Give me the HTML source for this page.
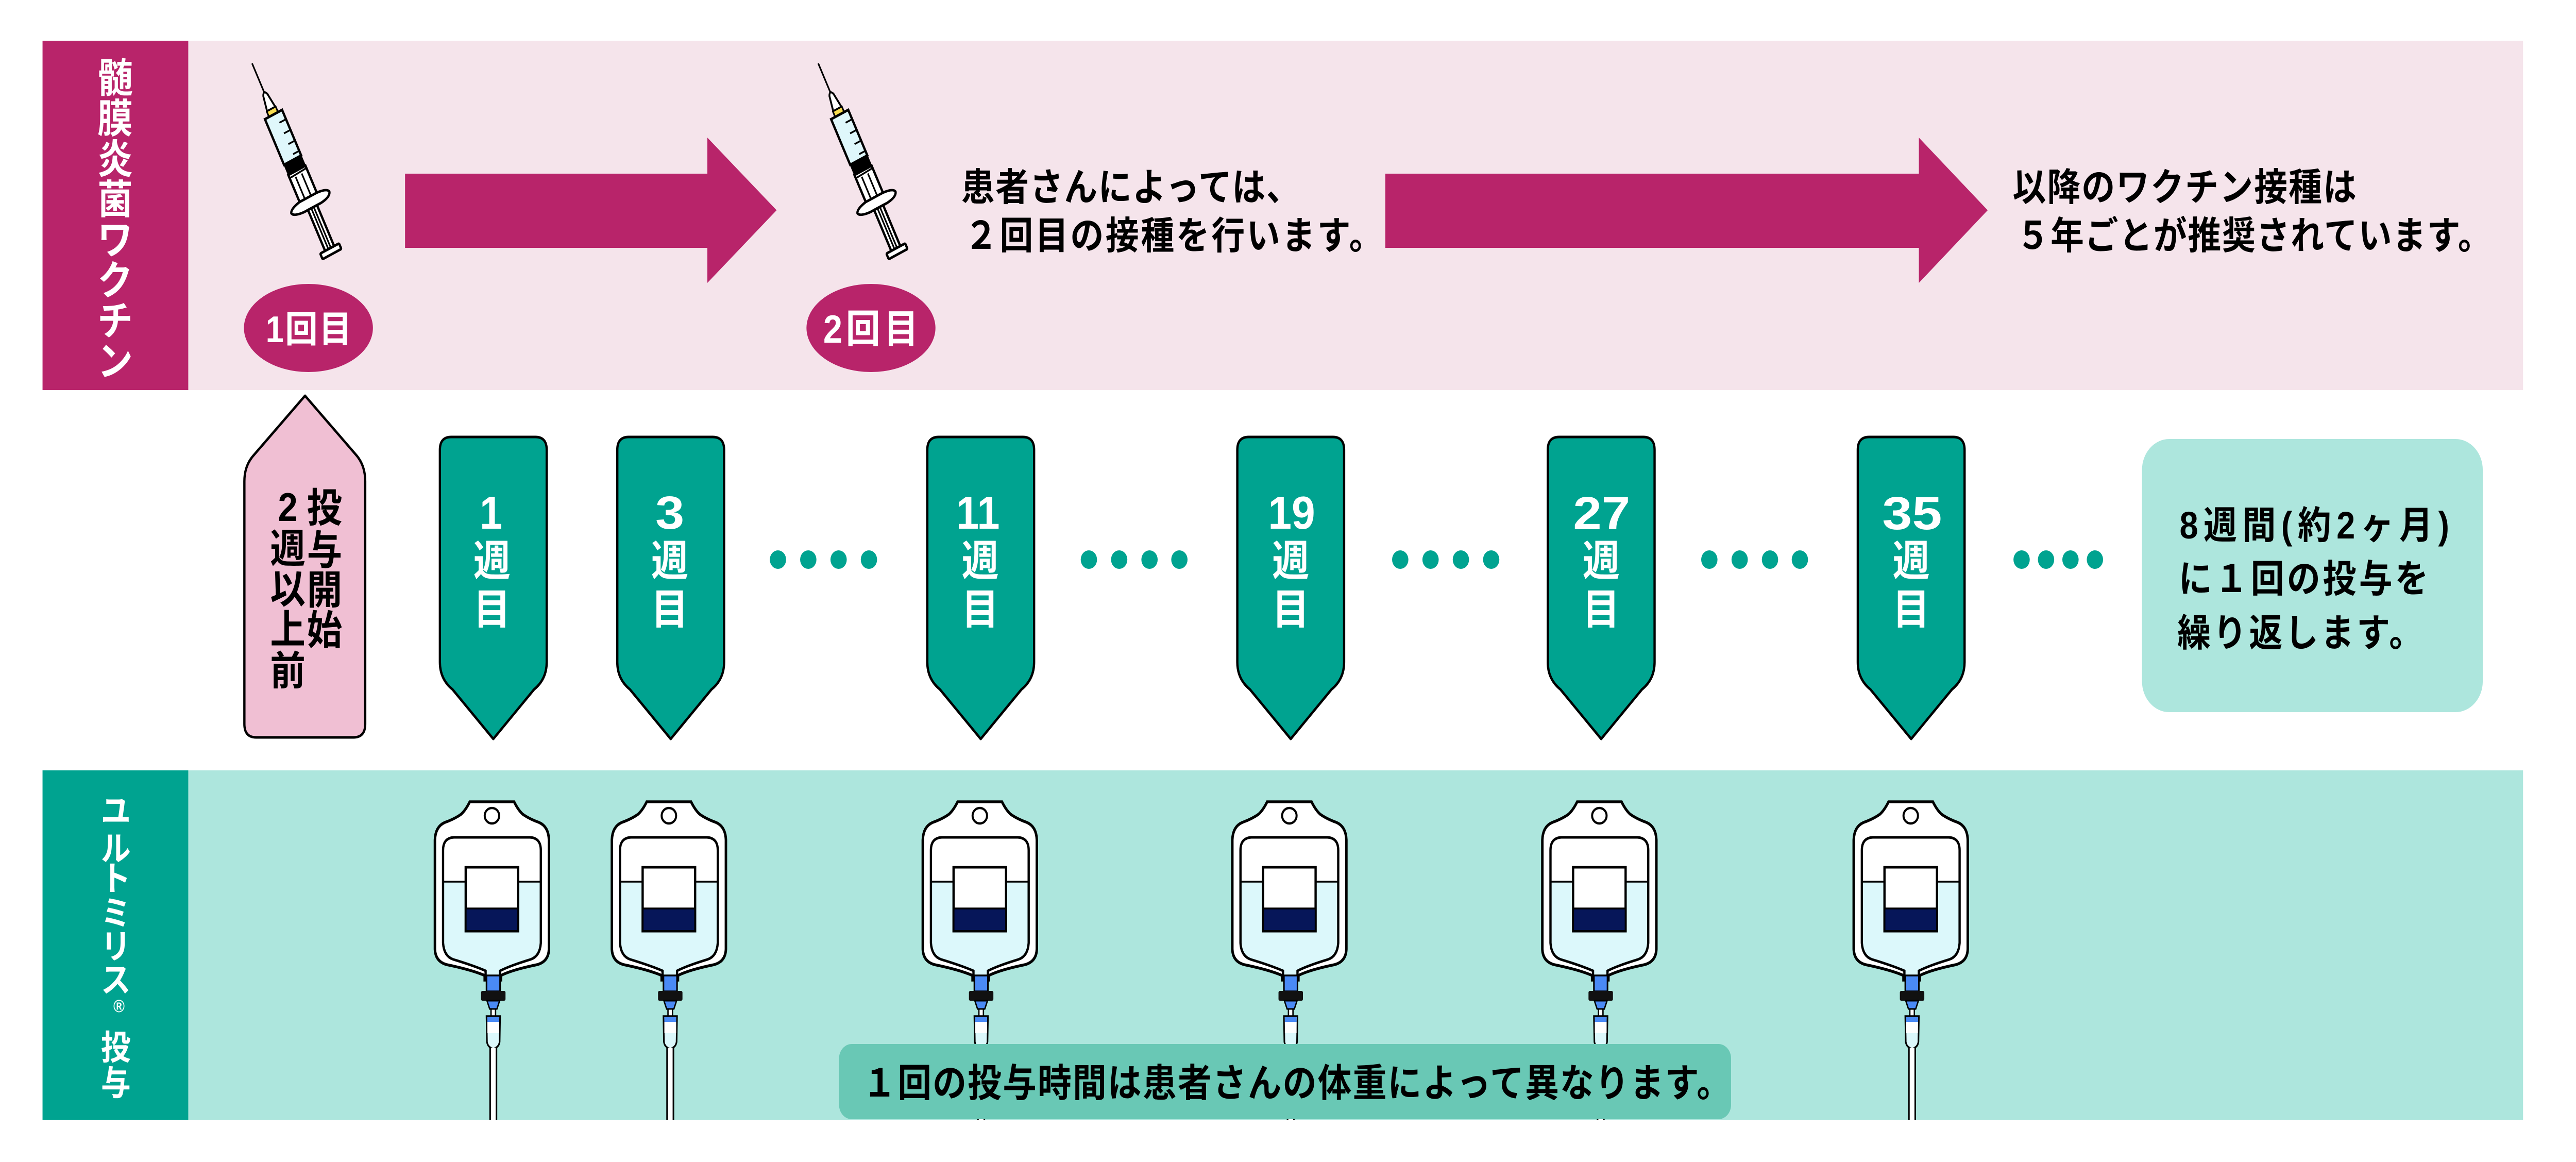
<!DOCTYPE html>
<html>
<head>
<meta charset="utf-8">
<style>
html,body{margin:0;padding:0;background:#fff;overflow:hidden;}
svg{display:block;width:100vw;height:100vh;}
text{font-family:"Liberation Sans","Noto Sans CJK JP",sans-serif;font-weight:bold;}
</style>
</head>
<body>
<svg viewBox="0 0 5692 2255" preserveAspectRatio="none" xmlns="http://www.w3.org/2000/svg">
<defs>
  <linearGradient id="liq" gradientUnits="userSpaceOnUse" x1="0" y1="1620" x2="0" y2="1902">
    <stop offset="0.323" stop-color="#ffffff"/>
    <stop offset="0.323" stop-color="#dcf8fb"/>
  </linearGradient>
</defs>
<rect x="0" y="0" width="5692" height="2255" fill="#fff"/>

<!-- Top pink band -->
<rect x="94" y="79" width="5481" height="678" fill="#f5e4eb"/>
<rect x="94" y="79" width="322" height="678" fill="#b8246a"/>

<!-- Left vertical label (vaccine) -->
<g fill="#fff" font-size="78" text-anchor="middle">
  <text x="254.5" y="179">髄</text>
  <text x="254.5" y="257.5">膜</text>
  <text x="254.5" y="336">炎</text>
  <text x="254.5" y="414.5">菌</text>
  <text x="254.5" y="493">ワ</text>
  <text x="254.5" y="571.5">ク</text>
  <text x="254.5" y="650">チ</text>
  <text x="254.5" y="728.5">ン</text>
</g>

<!-- Syringe 1 -->
<g transform="translate(557,123) rotate(-25.5)">
    <line x1="0" y1="0" x2="0" y2="68" stroke="#000" stroke-width="3.5"/>
    <path d="M -5,68 Q 0,57 5,68 L 10,98 L -10,98 Z" fill="#fff" stroke="#000" stroke-width="4"/>
    <rect x="-11" y="98" width="22" height="12" fill="#f7dc4f" stroke="#000" stroke-width="3.5"/>
    <rect x="-21" y="110" width="42" height="98" fill="#dff7fb" stroke="#000" stroke-width="5"/>
    <path d="M 21,130 H 5 M 21,153 H 5 M 21,176 H 5 M 21,198 H 6" stroke="#000" stroke-width="3.5" fill="none"/>
    <rect x="-21" y="230" width="42" height="60" fill="#fff" stroke="#000" stroke-width="5"/>
    <rect x="-22" y="206" width="44" height="24" fill="#000"/>
    <line x1="-21" y1="237" x2="21" y2="235" stroke="#000" stroke-width="3.5"/>
    <line x1="-8" y1="240" x2="-8" y2="290" stroke="#000" stroke-width="3.5"/>
    <line x1="7" y1="240" x2="7" y2="290" stroke="#000" stroke-width="3.5"/>
    <path d="M -21,288 L 21,288 Q 45,290 47,298 Q 45,308 21,310 L -21,310 Q -45,308 -47,300 Q -45,292 -21,288 Z" fill="#fff" stroke="#000" stroke-width="5"/>
    <rect x="-11" y="310" width="22" height="88" fill="#fff" stroke="#000" stroke-width="5"/>
    <line x1="-3" y1="312" x2="-3" y2="396" stroke="#000" stroke-width="3.5"/>
    <line x1="3" y1="312" x2="3" y2="396" stroke="#000" stroke-width="3.5"/>
    <rect x="-23" y="398" width="46" height="12" rx="2" fill="#fff" stroke="#000" stroke-width="5"/>
</g>
<!-- Syringe 2 -->
<g transform="translate(1808,123) rotate(-25.5)">
    <line x1="0" y1="0" x2="0" y2="68" stroke="#000" stroke-width="3.5"/>
    <path d="M -5,68 Q 0,57 5,68 L 10,98 L -10,98 Z" fill="#fff" stroke="#000" stroke-width="4"/>
    <rect x="-11" y="98" width="22" height="12" fill="#f7dc4f" stroke="#000" stroke-width="3.5"/>
    <rect x="-21" y="110" width="42" height="98" fill="#dff7fb" stroke="#000" stroke-width="5"/>
    <path d="M 21,130 H 5 M 21,153 H 5 M 21,176 H 5 M 21,198 H 6" stroke="#000" stroke-width="3.5" fill="none"/>
    <rect x="-21" y="230" width="42" height="60" fill="#fff" stroke="#000" stroke-width="5"/>
    <rect x="-22" y="206" width="44" height="24" fill="#000"/>
    <line x1="-21" y1="237" x2="21" y2="235" stroke="#000" stroke-width="3.5"/>
    <line x1="-8" y1="240" x2="-8" y2="290" stroke="#000" stroke-width="3.5"/>
    <line x1="7" y1="240" x2="7" y2="290" stroke="#000" stroke-width="3.5"/>
    <path d="M -21,288 L 21,288 Q 45,290 47,298 Q 45,308 21,310 L -21,310 Q -45,308 -47,300 Q -45,292 -21,288 Z" fill="#fff" stroke="#000" stroke-width="5"/>
    <rect x="-11" y="310" width="22" height="88" fill="#fff" stroke="#000" stroke-width="5"/>
    <line x1="-3" y1="312" x2="-3" y2="396" stroke="#000" stroke-width="3.5"/>
    <line x1="3" y1="312" x2="3" y2="396" stroke="#000" stroke-width="3.5"/>
    <rect x="-23" y="398" width="46" height="12" rx="2" fill="#fff" stroke="#000" stroke-width="5"/>
</g>

<!-- Dose circles -->
<ellipse cx="681.5" cy="636.5" rx="142.5" ry="85.5" fill="#b8246a"/>
<ellipse cx="1924.5" cy="636.5" rx="142.5" ry="85.5" fill="#b8246a"/>
<text x="587" y="664" font-size="72" fill="#fff" textLength="190">1回目</text>
<text x="1819" y="665" font-size="76" fill="#fff" textLength="210">2回目</text>

<!-- Arrows -->
<polygon points="895,337 1563,337 1563,267 1716,408 1563,549 1563,481 895,481" fill="#b8246a"/>
<polygon points="3061,337 4240,337 4240,267 4392,408 4240,549 4240,481 3061,481" fill="#b8246a"/>

<!-- Top texts -->
<g fill="#000" font-size="74">
  <text x="2124" y="389" textLength="748">患者さんによっては、</text>
  <text x="2131" y="483" textLength="924">２回目の接種を行います。</text>
  <text x="4447" y="389" textLength="760">以降のワクチン接種は</text>
  <text x="4455" y="483" textLength="1050">５年ごとが推奨されています。</text>
</g>

<!-- Pink up marker -->
<path d="M674,768 L788,884 Q807,904 807,934 V1405 Q807,1431 781,1431 H566 Q540,1431 540,1405 V934 Q540,904 560,884 Z" fill="#f0bfd3" stroke="#000" stroke-width="5" stroke-linejoin="round"/>
<g fill="#000" font-size="78" text-anchor="middle">
  <text x="717" y="1013">投</text>
  <text x="717" y="1095">与</text>
  <text x="717" y="1172">開</text>
  <text x="717" y="1250">始</text>
  <text x="636" y="1011">2</text>
  <text x="636" y="1092">週</text>
  <text x="636" y="1170">以</text>
  <text x="636" y="1249">上</text>
  <text x="636" y="1329">前</text>
</g>

<!-- Teal week markers -->
<g fill="#00a390" stroke="#000" stroke-width="5" stroke-linejoin="round">
  <path d="M 972,873 Q 972,848 997,848 H 1183 Q 1208,848 1208,873 V 1285 Q 1208,1318 1180,1338 L 1090,1434 L 1000,1338 Q 972,1318 972,1285 Z"/>
  <path d="M 1364,873 Q 1364,848 1389,848 H 1575 Q 1600,848 1600,873 V 1285 Q 1600,1318 1572,1338 L 1482,1434 L 1392,1338 Q 1364,1318 1364,1285 Z"/>
  <path d="M 2049,873 Q 2049,848 2074,848 H 2260 Q 2285,848 2285,873 V 1285 Q 2285,1318 2257,1338 L 2167,1434 L 2077,1338 Q 2049,1318 2049,1285 Z"/>
  <path d="M 2734,873 Q 2734,848 2759,848 H 2945 Q 2970,848 2970,873 V 1285 Q 2970,1318 2942,1338 L 2852,1434 L 2762,1338 Q 2734,1318 2734,1285 Z"/>
  <path d="M 3420,873 Q 3420,848 3445,848 H 3631 Q 3656,848 3656,873 V 1285 Q 3656,1318 3628,1338 L 3538,1434 L 3448,1338 Q 3420,1318 3420,1285 Z"/>
  <path d="M 4105,873 Q 4105,848 4130,848 H 4316 Q 4341,848 4341,873 V 1285 Q 4341,1318 4313,1338 L 4223,1434 L 4133,1338 Q 4105,1318 4105,1285 Z"/>
</g>

<g fill="#fff" text-anchor="middle">
  <text x="1085" y="1026" font-size="90">1</text>
  <text x="1480" y="1026" font-size="90" textLength="64" lengthAdjust="spacingAndGlyphs">3</text>
  <text x="2161" y="1026" font-size="90" textLength="96">11</text>
  <text x="2854" y="1026" font-size="90" textLength="104" lengthAdjust="spacingAndGlyphs">19</text>
  <text x="3539" y="1027" font-size="90" textLength="126" lengthAdjust="spacingAndGlyphs">27</text>
  <text x="4225" y="1027" font-size="90" textLength="132" lengthAdjust="spacingAndGlyphs">35</text>
</g>
<g fill="#fff" font-size="82" text-anchor="middle">
  <text x="1087" y="1117">週</text><text x="1087" y="1211">目</text>
  <text x="1480" y="1117">週</text><text x="1480" y="1211">目</text>
  <text x="2166" y="1117">週</text><text x="2166" y="1211">目</text>
  <text x="2852" y="1117">週</text><text x="2852" y="1211">目</text>
  <text x="3538" y="1117">週</text><text x="3538" y="1211">目</text>
  <text x="4223" y="1117">週</text><text x="4223" y="1211">目</text>
</g>

<!-- Dots -->
<g fill="#00a390">
  <circle cx="1719" cy="1086" r="18"/><circle cx="1786" cy="1086" r="18"/><circle cx="1853" cy="1086" r="18"/><circle cx="1920" cy="1086" r="18"/>
  <circle cx="2406" cy="1086" r="18"/><circle cx="2473" cy="1086" r="18"/><circle cx="2540" cy="1086" r="18"/><circle cx="2606" cy="1086" r="18"/>
  <circle cx="3094" cy="1086" r="18"/><circle cx="3161" cy="1086" r="18"/><circle cx="3228" cy="1086" r="18"/><circle cx="3295" cy="1086" r="18"/>
  <circle cx="3777" cy="1086" r="18"/><circle cx="3844" cy="1086" r="18"/><circle cx="3911" cy="1086" r="18"/><circle cx="3977" cy="1086" r="18"/>
  <circle cx="4467" cy="1086" r="18"/><circle cx="4521" cy="1086" r="18"/><circle cx="4575" cy="1086" r="18"/><circle cx="4629" cy="1086" r="18"/>
</g>

<!-- Right info box -->
<rect x="4733" y="852" width="753" height="530" rx="60" ry="60" fill="#ade6dd"/>
<g fill="#000" font-size="74">
  <text x="4816" y="1045" textLength="596">8週間(約2ヶ月)</text>
  <text x="4814" y="1149" textLength="552">に１回の投与を</text>
  <text x="4811" y="1254" textLength="542">繰り返します。</text>
</g>

<!-- Bottom teal band -->
<rect x="94" y="1495" width="5481" height="678" fill="#ade6dd"/>
<rect x="94" y="1495" width="322" height="678" fill="#00a390"/>
<g fill="#fff" font-size="66" text-anchor="middle">
  <text x="256" y="1597">ユ</text>
  <text x="256" y="1670">ル</text>
  <text x="256" y="1728">ト</text>
  <text x="256" y="1795">ミ</text>
  <text x="256" y="1860">リ</text>
  <text x="256" y="1925">ス</text>
  <text x="256" y="2056">投</text>
  <text x="256" y="2125">与</text>
</g>
<text x="263" y="1964" font-size="34" fill="#fff" text-anchor="middle" font-weight="normal">®</text>

<!-- IV bags -->
<g transform="translate(1087,0)">
    <path d="M -49,1556 H 49 Q 58,1572 68,1580 Q 82,1589 104,1596 Q 125,1604 126,1630 V 1842 Q 125,1866 100,1872 Q 45,1882 20,1893 V 1902 H -16 V 1893 Q -45,1882 -100,1872 Q -125,1866 -126,1842 V 1630 Q -125,1604 -104,1596 Q -82,1589 -68,1580 Q -58,1572 -49,1556 Z" fill="#fff" stroke="#000" stroke-width="5.5"/>
    <ellipse cx="0" cy="1583" rx="16" ry="15" fill="#fff" stroke="#000" stroke-width="4.5"/>
    <path d="M -108,1650 Q -108,1626 -84,1625 H 84 Q 108,1626 108,1650 V 1830 Q 106,1856 85,1862 Q 40,1874 18,1884 V 1900 H -14 V 1884 Q -40,1874 -85,1862 Q -106,1856 -108,1830 Z" fill="url(#liq)" stroke="#000" stroke-width="5"/>
    <line x1="-108" y1="1711" x2="108" y2="1711" stroke="#000" stroke-width="3.5"/>
    <rect x="-58" y="1683" width="116" height="124" fill="#fff" stroke="#000" stroke-width="5"/>
    <rect x="-56" y="1764" width="112" height="41" fill="#061659"/>
    <line x1="-58" y1="1763" x2="58" y2="1763" stroke="#000" stroke-width="3.5"/>
    <rect x="-12" y="1893" width="30" height="31" fill="#4a8af5" stroke="#000" stroke-width="3.5"/>
    <rect x="-24" y="1923" width="54" height="19" rx="3" fill="#111"/>
    <path d="M -11,1942 H 17 L 11,1958 H -5 Z" fill="#4a8af5" stroke="#000" stroke-width="3"/>
    <rect x="-2" y="1958" width="10" height="14" fill="#fff" stroke="#000" stroke-width="3"/>
    <path d="M -12,1972 H 18 L 17,2022 Q 15,2033 3,2035 Q -9,2033 -11,2022 Z" fill="#dcf8fb" stroke="#000" stroke-width="3.5"/>
    <rect x="-10" y="1983" width="26" height="22" fill="#fff"/>
    <rect x="-10" y="1974" width="26" height="9" fill="#4a8af5"/>
    <rect x="-4" y="2033" width="14" height="140" fill="#fff"/>
    <line x1="-4" y1="2033" x2="-4" y2="2173" stroke="#000" stroke-width="3.5"/>
    <line x1="10" y1="2033" x2="10" y2="2173" stroke="#000" stroke-width="3.5"/>
</g>
<g transform="translate(1478,0)">
    <path d="M -49,1556 H 49 Q 58,1572 68,1580 Q 82,1589 104,1596 Q 125,1604 126,1630 V 1842 Q 125,1866 100,1872 Q 45,1882 20,1893 V 1902 H -16 V 1893 Q -45,1882 -100,1872 Q -125,1866 -126,1842 V 1630 Q -125,1604 -104,1596 Q -82,1589 -68,1580 Q -58,1572 -49,1556 Z" fill="#fff" stroke="#000" stroke-width="5.5"/>
    <ellipse cx="0" cy="1583" rx="16" ry="15" fill="#fff" stroke="#000" stroke-width="4.5"/>
    <path d="M -108,1650 Q -108,1626 -84,1625 H 84 Q 108,1626 108,1650 V 1830 Q 106,1856 85,1862 Q 40,1874 18,1884 V 1900 H -14 V 1884 Q -40,1874 -85,1862 Q -106,1856 -108,1830 Z" fill="url(#liq)" stroke="#000" stroke-width="5"/>
    <line x1="-108" y1="1711" x2="108" y2="1711" stroke="#000" stroke-width="3.5"/>
    <rect x="-58" y="1683" width="116" height="124" fill="#fff" stroke="#000" stroke-width="5"/>
    <rect x="-56" y="1764" width="112" height="41" fill="#061659"/>
    <line x1="-58" y1="1763" x2="58" y2="1763" stroke="#000" stroke-width="3.5"/>
    <rect x="-12" y="1893" width="30" height="31" fill="#4a8af5" stroke="#000" stroke-width="3.5"/>
    <rect x="-24" y="1923" width="54" height="19" rx="3" fill="#111"/>
    <path d="M -11,1942 H 17 L 11,1958 H -5 Z" fill="#4a8af5" stroke="#000" stroke-width="3"/>
    <rect x="-2" y="1958" width="10" height="14" fill="#fff" stroke="#000" stroke-width="3"/>
    <path d="M -12,1972 H 18 L 17,2022 Q 15,2033 3,2035 Q -9,2033 -11,2022 Z" fill="#dcf8fb" stroke="#000" stroke-width="3.5"/>
    <rect x="-10" y="1983" width="26" height="22" fill="#fff"/>
    <rect x="-10" y="1974" width="26" height="9" fill="#4a8af5"/>
    <rect x="-4" y="2033" width="14" height="140" fill="#fff"/>
    <line x1="-4" y1="2033" x2="-4" y2="2173" stroke="#000" stroke-width="3.5"/>
    <line x1="10" y1="2033" x2="10" y2="2173" stroke="#000" stroke-width="3.5"/>
</g>
<g transform="translate(2165,0)">
    <path d="M -49,1556 H 49 Q 58,1572 68,1580 Q 82,1589 104,1596 Q 125,1604 126,1630 V 1842 Q 125,1866 100,1872 Q 45,1882 20,1893 V 1902 H -16 V 1893 Q -45,1882 -100,1872 Q -125,1866 -126,1842 V 1630 Q -125,1604 -104,1596 Q -82,1589 -68,1580 Q -58,1572 -49,1556 Z" fill="#fff" stroke="#000" stroke-width="5.5"/>
    <ellipse cx="0" cy="1583" rx="16" ry="15" fill="#fff" stroke="#000" stroke-width="4.5"/>
    <path d="M -108,1650 Q -108,1626 -84,1625 H 84 Q 108,1626 108,1650 V 1830 Q 106,1856 85,1862 Q 40,1874 18,1884 V 1900 H -14 V 1884 Q -40,1874 -85,1862 Q -106,1856 -108,1830 Z" fill="url(#liq)" stroke="#000" stroke-width="5"/>
    <line x1="-108" y1="1711" x2="108" y2="1711" stroke="#000" stroke-width="3.5"/>
    <rect x="-58" y="1683" width="116" height="124" fill="#fff" stroke="#000" stroke-width="5"/>
    <rect x="-56" y="1764" width="112" height="41" fill="#061659"/>
    <line x1="-58" y1="1763" x2="58" y2="1763" stroke="#000" stroke-width="3.5"/>
    <rect x="-12" y="1893" width="30" height="31" fill="#4a8af5" stroke="#000" stroke-width="3.5"/>
    <rect x="-24" y="1923" width="54" height="19" rx="3" fill="#111"/>
    <path d="M -11,1942 H 17 L 11,1958 H -5 Z" fill="#4a8af5" stroke="#000" stroke-width="3"/>
    <rect x="-2" y="1958" width="10" height="14" fill="#fff" stroke="#000" stroke-width="3"/>
    <path d="M -12,1972 H 18 L 17,2022 Q 15,2033 3,2035 Q -9,2033 -11,2022 Z" fill="#dcf8fb" stroke="#000" stroke-width="3.5"/>
    <rect x="-10" y="1983" width="26" height="22" fill="#fff"/>
    <rect x="-10" y="1974" width="26" height="9" fill="#4a8af5"/>
    <rect x="-4" y="2033" width="14" height="140" fill="#fff"/>
    <line x1="-4" y1="2033" x2="-4" y2="2173" stroke="#000" stroke-width="3.5"/>
    <line x1="10" y1="2033" x2="10" y2="2173" stroke="#000" stroke-width="3.5"/>
</g>
<g transform="translate(2849,0)">
    <path d="M -49,1556 H 49 Q 58,1572 68,1580 Q 82,1589 104,1596 Q 125,1604 126,1630 V 1842 Q 125,1866 100,1872 Q 45,1882 20,1893 V 1902 H -16 V 1893 Q -45,1882 -100,1872 Q -125,1866 -126,1842 V 1630 Q -125,1604 -104,1596 Q -82,1589 -68,1580 Q -58,1572 -49,1556 Z" fill="#fff" stroke="#000" stroke-width="5.5"/>
    <ellipse cx="0" cy="1583" rx="16" ry="15" fill="#fff" stroke="#000" stroke-width="4.5"/>
    <path d="M -108,1650 Q -108,1626 -84,1625 H 84 Q 108,1626 108,1650 V 1830 Q 106,1856 85,1862 Q 40,1874 18,1884 V 1900 H -14 V 1884 Q -40,1874 -85,1862 Q -106,1856 -108,1830 Z" fill="url(#liq)" stroke="#000" stroke-width="5"/>
    <line x1="-108" y1="1711" x2="108" y2="1711" stroke="#000" stroke-width="3.5"/>
    <rect x="-58" y="1683" width="116" height="124" fill="#fff" stroke="#000" stroke-width="5"/>
    <rect x="-56" y="1764" width="112" height="41" fill="#061659"/>
    <line x1="-58" y1="1763" x2="58" y2="1763" stroke="#000" stroke-width="3.5"/>
    <rect x="-12" y="1893" width="30" height="31" fill="#4a8af5" stroke="#000" stroke-width="3.5"/>
    <rect x="-24" y="1923" width="54" height="19" rx="3" fill="#111"/>
    <path d="M -11,1942 H 17 L 11,1958 H -5 Z" fill="#4a8af5" stroke="#000" stroke-width="3"/>
    <rect x="-2" y="1958" width="10" height="14" fill="#fff" stroke="#000" stroke-width="3"/>
    <path d="M -12,1972 H 18 L 17,2022 Q 15,2033 3,2035 Q -9,2033 -11,2022 Z" fill="#dcf8fb" stroke="#000" stroke-width="3.5"/>
    <rect x="-10" y="1983" width="26" height="22" fill="#fff"/>
    <rect x="-10" y="1974" width="26" height="9" fill="#4a8af5"/>
    <rect x="-4" y="2033" width="14" height="140" fill="#fff"/>
    <line x1="-4" y1="2033" x2="-4" y2="2173" stroke="#000" stroke-width="3.5"/>
    <line x1="10" y1="2033" x2="10" y2="2173" stroke="#000" stroke-width="3.5"/>
</g>
<g transform="translate(3534,0)">
    <path d="M -49,1556 H 49 Q 58,1572 68,1580 Q 82,1589 104,1596 Q 125,1604 126,1630 V 1842 Q 125,1866 100,1872 Q 45,1882 20,1893 V 1902 H -16 V 1893 Q -45,1882 -100,1872 Q -125,1866 -126,1842 V 1630 Q -125,1604 -104,1596 Q -82,1589 -68,1580 Q -58,1572 -49,1556 Z" fill="#fff" stroke="#000" stroke-width="5.5"/>
    <ellipse cx="0" cy="1583" rx="16" ry="15" fill="#fff" stroke="#000" stroke-width="4.5"/>
    <path d="M -108,1650 Q -108,1626 -84,1625 H 84 Q 108,1626 108,1650 V 1830 Q 106,1856 85,1862 Q 40,1874 18,1884 V 1900 H -14 V 1884 Q -40,1874 -85,1862 Q -106,1856 -108,1830 Z" fill="url(#liq)" stroke="#000" stroke-width="5"/>
    <line x1="-108" y1="1711" x2="108" y2="1711" stroke="#000" stroke-width="3.5"/>
    <rect x="-58" y="1683" width="116" height="124" fill="#fff" stroke="#000" stroke-width="5"/>
    <rect x="-56" y="1764" width="112" height="41" fill="#061659"/>
    <line x1="-58" y1="1763" x2="58" y2="1763" stroke="#000" stroke-width="3.5"/>
    <rect x="-12" y="1893" width="30" height="31" fill="#4a8af5" stroke="#000" stroke-width="3.5"/>
    <rect x="-24" y="1923" width="54" height="19" rx="3" fill="#111"/>
    <path d="M -11,1942 H 17 L 11,1958 H -5 Z" fill="#4a8af5" stroke="#000" stroke-width="3"/>
    <rect x="-2" y="1958" width="10" height="14" fill="#fff" stroke="#000" stroke-width="3"/>
    <path d="M -12,1972 H 18 L 17,2022 Q 15,2033 3,2035 Q -9,2033 -11,2022 Z" fill="#dcf8fb" stroke="#000" stroke-width="3.5"/>
    <rect x="-10" y="1983" width="26" height="22" fill="#fff"/>
    <rect x="-10" y="1974" width="26" height="9" fill="#4a8af5"/>
    <rect x="-4" y="2033" width="14" height="140" fill="#fff"/>
    <line x1="-4" y1="2033" x2="-4" y2="2173" stroke="#000" stroke-width="3.5"/>
    <line x1="10" y1="2033" x2="10" y2="2173" stroke="#000" stroke-width="3.5"/>
</g>
<g transform="translate(4222,0)">
    <path d="M -49,1556 H 49 Q 58,1572 68,1580 Q 82,1589 104,1596 Q 125,1604 126,1630 V 1842 Q 125,1866 100,1872 Q 45,1882 20,1893 V 1902 H -16 V 1893 Q -45,1882 -100,1872 Q -125,1866 -126,1842 V 1630 Q -125,1604 -104,1596 Q -82,1589 -68,1580 Q -58,1572 -49,1556 Z" fill="#fff" stroke="#000" stroke-width="5.5"/>
    <ellipse cx="0" cy="1583" rx="16" ry="15" fill="#fff" stroke="#000" stroke-width="4.5"/>
    <path d="M -108,1650 Q -108,1626 -84,1625 H 84 Q 108,1626 108,1650 V 1830 Q 106,1856 85,1862 Q 40,1874 18,1884 V 1900 H -14 V 1884 Q -40,1874 -85,1862 Q -106,1856 -108,1830 Z" fill="url(#liq)" stroke="#000" stroke-width="5"/>
    <line x1="-108" y1="1711" x2="108" y2="1711" stroke="#000" stroke-width="3.5"/>
    <rect x="-58" y="1683" width="116" height="124" fill="#fff" stroke="#000" stroke-width="5"/>
    <rect x="-56" y="1764" width="112" height="41" fill="#061659"/>
    <line x1="-58" y1="1763" x2="58" y2="1763" stroke="#000" stroke-width="3.5"/>
    <rect x="-12" y="1893" width="30" height="31" fill="#4a8af5" stroke="#000" stroke-width="3.5"/>
    <rect x="-24" y="1923" width="54" height="19" rx="3" fill="#111"/>
    <path d="M -11,1942 H 17 L 11,1958 H -5 Z" fill="#4a8af5" stroke="#000" stroke-width="3"/>
    <rect x="-2" y="1958" width="10" height="14" fill="#fff" stroke="#000" stroke-width="3"/>
    <path d="M -12,1972 H 18 L 17,2022 Q 15,2033 3,2035 Q -9,2033 -11,2022 Z" fill="#dcf8fb" stroke="#000" stroke-width="3.5"/>
    <rect x="-10" y="1983" width="26" height="22" fill="#fff"/>
    <rect x="-10" y="1974" width="26" height="9" fill="#4a8af5"/>
    <rect x="-4" y="2033" width="14" height="140" fill="#fff"/>
    <line x1="-4" y1="2033" x2="-4" y2="2173" stroke="#000" stroke-width="3.5"/>
    <line x1="10" y1="2033" x2="10" y2="2173" stroke="#000" stroke-width="3.5"/>
</g>

<!-- Bottom note box -->
<rect x="1854" y="2026" width="1971" height="146" rx="28" ry="28" fill="#69c8b5"/>
<text x="1906" y="2128" font-size="75" fill="#000" textLength="1918">１回の投与時間は患者さんの体重によって異なります。</text>
</svg>
</body>
</html>
